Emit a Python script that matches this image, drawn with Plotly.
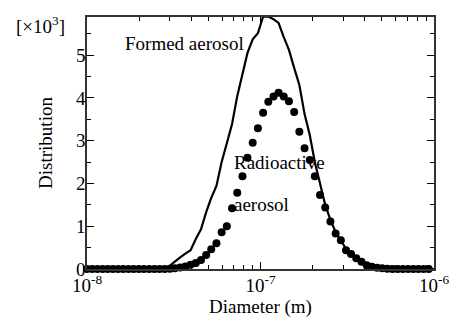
import plotly.graph_objects as go

# log10 of particle diameter (m) for each bin
diam_exp = [-8.000, -7.970, -7.940, -7.910, -7.881, -7.851, -7.821, -7.791, -7.761, -7.731,
            -7.701, -7.672, -7.642, -7.612, -7.582, -7.552, -7.522, -7.493, -7.463, -7.433,
            -7.403, -7.373, -7.343, -7.313, -7.284, -7.254, -7.224, -7.194, -7.164, -7.134,
            -7.104, -7.075, -7.045, -7.015, -6.985, -6.955, -6.925, -6.896, -6.866, -6.836,
            -6.806, -6.776, -6.746, -6.716, -6.687, -6.657, -6.627, -6.597, -6.567, -6.537,
            -6.507, -6.478, -6.448, -6.418, -6.388, -6.358, -6.328, -6.299, -6.269, -6.239,
            -6.209, -6.179, -6.149, -6.119, -6.090, -6.060, -6.030, -6.000]
diameters = [10 ** e for e in diam_exp]

# Distribution values (x10^3)
formed = [0, 0, 0, 0, 0, 0, 0, 0, 0, 0, 0, 0, 0, 0, 0,
          0.01, 0.08, 0.18, 0.27, 0.36, 0.44, 0.70, 0.93, 1.33, 1.66,
          1.94, 2.50, 2.94, 3.39, 4.04, 4.58, 5.05, 5.37, 5.51, 5.90,
          5.90, 5.84, 5.75, 5.42, 5.12, 4.70, 4.30, 3.62, 3.13, 2.50,
          2.00, 1.50, 1.15, 0.86, 0.67, 0.47, 0.35, 0.25, 0.17, 0.10,
          0.06, 0.035, 0.015, 0.005,
          0, 0, 0, 0, 0, 0, 0, 0, 0]
radioactive = [0, 0, 0, 0, 0, 0, 0, 0, 0, 0, 0, 0, 0, 0, 0, 0,
               0.005, 0.016, 0.035, 0.06, 0.10, 0.14, 0.21, 0.33, 0.46, 0.60,
               0.86, 1.00, 1.42, 1.78, 2.17, 2.60, 2.95, 3.29, 3.65, 3.91,
               4.03, 4.12, 4.03, 3.92, 3.67, 3.21, 2.82, 2.55, 2.17, 1.73,
               1.44, 1.11, 0.83, 0.67, 0.44, 0.35, 0.25, 0.17, 0.09, 0.05,
               0.03, 0.015, 0.005,
               0, 0, 0, 0, 0, 0, 0, 0, 0]

x_tick_vals = [1e-8, 1e-7, 1e-6]
x_tick_text = ["10<sup>-8</sup>", "10<sup>-7</sup>", "10<sup>-6</sup>"]
y_ticks = [0, 1, 2, 3, 4, 5]

FONT = "Liberation Serif, Times New Roman, serif"

fig = go.Figure()
fig.add_trace(go.Scatter(x=diameters, y=formed, mode="lines",
                         line=dict(color="black", width=2.2), showlegend=False))
fig.add_trace(go.Scatter(x=diameters, y=radioactive, mode="markers",
                         marker=dict(color="black", size=8), cliponaxis=False,
                         showlegend=False))

fig.update_layout(
    width=464, height=323,
    margin=dict(l=87, r=30, t=17, b=54),
    paper_bgcolor="white", plot_bgcolor="white",
    font=dict(family=FONT, size=19, color="black"),
    xaxis=dict(type="log", range=[-8, -6], tickmode="array",
               tickvals=x_tick_vals, ticktext=x_tick_text,
               ticks="inside", ticklen=7, tickwidth=1, tickcolor="black",
               showline=True, linecolor="#333", linewidth=1.5, mirror="ticks",
               showgrid=False, zeroline=False, automargin=False,
               ticklabelstandoff=-2,
               minor=dict(ticks="inside", ticklen=4, dtick="D1", tickcolor="black", showgrid=False),
               title=dict(text="Diameter (m)", font=dict(size=19), standoff=4)),
    yaxis=dict(range=[0, 5.89], tickvals=y_ticks,
               ticks="inside", ticklen=7, tickwidth=1, tickcolor="black",
               showline=True, linecolor="#333", linewidth=1.5, mirror="ticks",
               showgrid=False, zeroline=False, automargin=False,
               ticklabelstandoff=-4,
               minor=dict(ticks="inside", ticklen=4, dtick=0.5, tickcolor="black", showgrid=False),
               title=dict(text="Distribution", font=dict(size=19), standoff=18)),
)

fig.add_annotation(x=-7.79, y=5.28, xref="x", yref="y", text="Formed aerosol",
                   showarrow=False, xanchor="left", yanchor="middle", font=dict(size=19))
fig.add_annotation(x=-7.164, y=2.48, xref="x", yref="y", text="Radioactive",
                   showarrow=False, xanchor="left", yanchor="middle", font=dict(size=19))
fig.add_annotation(x=-7.164, y=1.50, xref="x", yref="y", text="aerosol",
                   showarrow=False, xanchor="left", yanchor="middle", font=dict(size=19))
fig.add_annotation(x=-0.21, y=0.968, xref="paper", yref="paper", text="[×10<sup>3</sup>]",
                   showarrow=False, xanchor="left", yanchor="middle", font=dict(size=19))

fig.write_html("out.html")
